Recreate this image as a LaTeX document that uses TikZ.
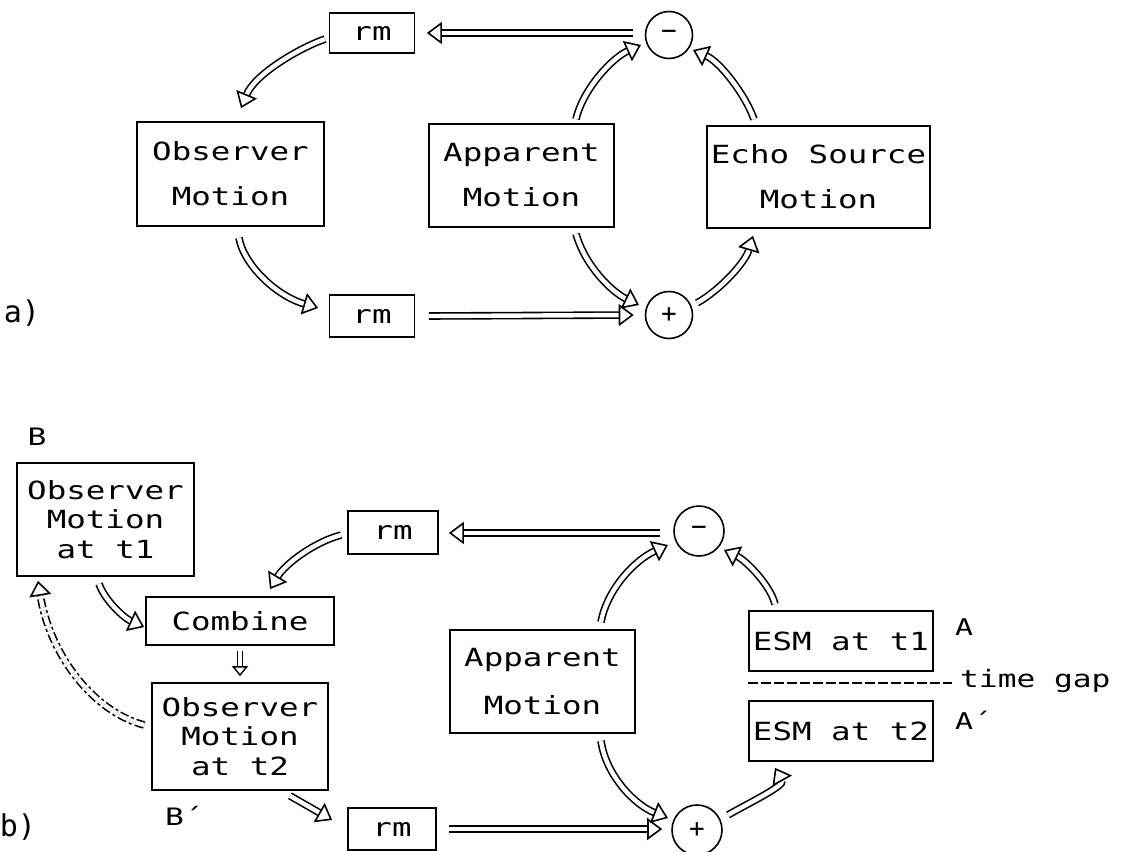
\documentclass[tikz,border=0pt]{standalone}
\usepackage{fontspec}
\newfontfamily\pf[FakeStretch=1.3]{DejaVu Sans Mono}
\newfontfamily\pfn{DejaVu Sans Mono}
\usetikzlibrary{arrows.meta,calc}
\begin{document}
\begin{tikzpicture}[x=1pt,y=-1pt,
  box/.style={draw, line width=1.7pt, align=center, inner sep=0pt,
    font=\pf\fontsize{25}{45}\selectfont},
  tbox/.style={box, font=\pf\fontsize{25}{29.5}\selectfont},
  circ/.style={draw, circle, line width=1.6pt, minimum size=47pt, inner sep=0pt,
    font=\pfn\fontsize{26}{26}\selectfont},
  lab/.style={inner sep=0pt, font=\pf\fontsize{24}{24}\selectfont},
  part/.style={inner sep=0pt, font=\pfn\fontsize{30}{30}\selectfont},
  darr/.style={line width=1.6pt, double distance=4.4pt,
    -{Triangle[length=15pt,width=22pt,fill=white,line width=1.6pt]}},
  sarr/.style={line width=1.4pt, double distance=3.6pt,
    -{Triangle[length=10pt,width=16pt,fill=white,line width=1.4pt]}},
  dasharr/.style={darr, dash pattern=on 9pt off 3pt on 3pt off 3pt},
]
\useasboundingbox (0,0) rectangle (1128,852);

% ---------- part a ----------
\node[box, minimum width=85pt, minimum height=40pt] (rmA1) at (372,33) {rm};
\node[circ] (minusA) at (669,35) {−};
\node[box, minimum width=187pt, minimum height=104pt] (obsA) at (230.5,174) {Observer\\Motion};
\node[box, minimum width=185pt, minimum height=103pt] (appA) at (521.5,175.5) {Apparent\\Motion};
\node[box, minimum width=223pt, minimum height=102pt] (echoA) at (818.5,177) {Echo Source\\Motion};
\node[box, minimum width=85pt, minimum height=42pt] (rmA2) at (372,316) {rm};
\node[circ] (plusA) at (669,315) {+};
\node[part] (la) at (22,313) {a)};

\draw[darr] ($(minusA.west)+(-12,-2)$) -- ($(rmA1.east)+(11.5,0)$);
\draw[darr] ($(rmA1.west)+(-3.5,6)$) .. controls +(-26,9) and +(14,-34) .. ($(obsA.north)+(10.5,-13)$);
\draw[darr] ($(obsA.south)+(8.5,11)$) .. controls +(4,25) and +(-44,-13) .. ($(rmA2.west)+(-10.5,-8)$);
\draw[darr] ($(rmA2.east)+(13.5,0)$) -- ($(plusA.west)+(-11,0)$);
\draw[darr] ($(appA.north)+(54.5,-4)$) .. controls +(7,-30) and +(-29,13) .. ($(minusA)+(-28,10)$);
\draw[darr] ($(appA.south)+(54.5,6)$) .. controls +(9,32) and +(-27,-13) .. ($(plusA)+(-30,-10)$);
\draw[darr] ($(plusA)+(28,-12)$) .. controls +(23,-13) and +(-8,27) .. ($(echoA.south)+(-65.5,7)$);
\draw[darr] ($(echoA.north)+(-64.5,-6)$) .. controls +(-9,-25) and +(27,12) .. ($(minusA)+(24,15)$);

% ---------- part b ----------
\node[lab] (lB) at (37,437) {B};
\node[tbox, minimum width=177pt, minimum height=113pt] (obs1) at (105.5,519.5) {Observer\\Motion\\at t1};
\node[box, minimum width=90pt, minimum height=43pt] (rmB1) at (393,532.5) {rm};
\node[box, minimum width=188pt, minimum height=48pt] (comb) at (240,621) {Combine};
\node[tbox, minimum width=176pt, minimum height=107pt] (obs2) at (240,736.5) {Observer\\Motion\\at t2};
\node[lab] (lB2) at (184,816) {B´};
\node[part] (lb) at (18,827) {b)};
\node[box, minimum width=88pt, minimum height=42pt] (rmB2) at (392,829) {rm};
\node[circ, minimum size=50pt] (minusB) at (699,531) {−};
\node[circ, minimum size=50pt] (plusB) at (697,830) {+};
\node[box, minimum width=185pt, minimum height=103pt, font=\pf\fontsize{25}{48}\selectfont] (appB) at (542.5,681.5) {Apparent\\Motion};
\node[box, minimum width=184pt, minimum height=60pt] (esm1) at (841,641) {ESM at t1};
\node[box, minimum width=184pt, minimum height=60pt] (esm2) at (841,731) {ESM at t2};
\node[lab, font=\pf\fontsize{23}{23}\selectfont] (lA) at (964,627) {A};
\node[lab, font=\pf\fontsize{23}{23}\selectfont, anchor=west] (lA2) at (955,720) {A´};
\node[lab, anchor=base west] (tg) at (960,687) {time gap};
\coordinate (gapL) at (748,683);
\draw[line width=1.6pt, dash pattern=on 10pt off 3pt] (gapL) -- ($(gapL -| tg.west)+(-8,0)$);

\draw[darr] ($(minusB.west)+(-13,2)$) -- ($(rmB1.east)+(10,0.5)$);
\draw[darr] ($(rmB1.west)+(-6,2.5)$) .. controls +(-27,7) and +(15,-25) .. ($(comb.north)+(30,-7)$);
\draw[darr] ($(obs1.south)+(-6.5,7)$) .. controls +(6,17) and +(-20,-9) .. ($(comb.west)+(-1,6)$);
\draw[sarr] ($(comb.south)+(0,5)$) -- ($(obs2.north)+(0,-6)$);
\draw[dasharr] ($(obs2.west)+(-7,-11.5)$) .. controls +(-50,-13) and +(12,75) .. ($(obs1.south)+(-67.5,4)$);
\draw[darr] ($(obs2.south)+(50,5)$) -- ($(rmB2.west)+(-15,-9)$);
\draw[darr] ($(rmB2.east)+(12,0)$) -- ($(plusB.west)+(-9,-1)$);
\draw[darr] ($(appB.north)+(58.5,-7)$) .. controls +(6,-33) and +(-33,15) .. ($(minusB)+(-31,14)$);
\draw[darr] ($(esm1.north)+(-66,-6)$) .. controls +(-5,-20) and +(21,10) .. ($(minusB)+(25,19)$);
\draw[darr] ($(appB.south)+(58.5,7)$) .. controls +(5,35) and +(-33,-13) .. ($(plusB)+(-29,-12)$);
\draw[darr] ($(plusB)+(31,-15)$) .. controls +(17,-10) and +(10,18) .. ($(esm2.south)+(-66,6)$);
\end{tikzpicture}
\end{document}
